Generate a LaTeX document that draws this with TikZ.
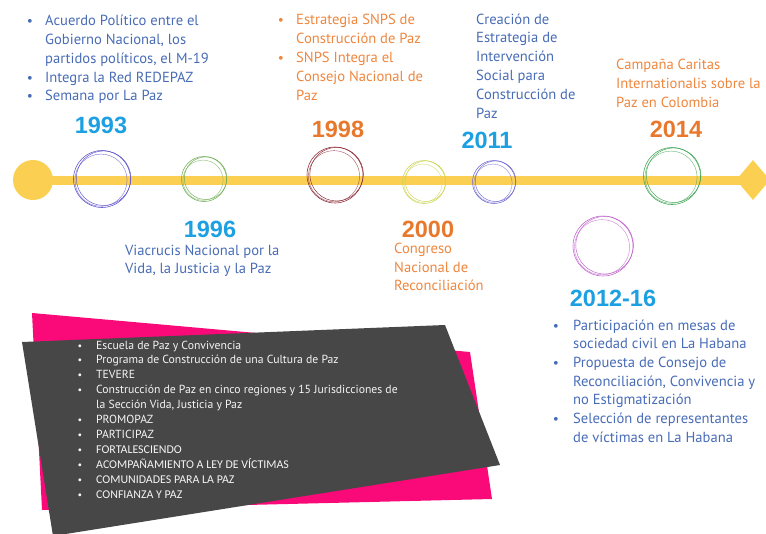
\documentclass[tikz,border=0pt]{standalone}
\usepackage{fontspec}
\setmainfont{PT Sans}
\newfontfamily\yearfont{Liberation Sans}
\newfontfamily\calfont{Carlito}
\usetikzlibrary{shapes.geometric}
\definecolor{tlyellow}{RGB}{251,208,82}
\definecolor{txtblue}{RGB}{72,108,182}
\definecolor{txtorange}{RGB}{238,134,62}
\definecolor{yrcyan}{RGB}{28,160,226}
\definecolor{yrorange}{RGB}{232,120,44}
\definecolor{ringA}{RGB}{92,80,205}
\definecolor{ringB}{RGB}{112,172,84}
\definecolor{ringC}{RGB}{138,40,52}
\definecolor{ringD}{RGB}{205,212,84}
\definecolor{ringE}{RGB}{112,104,212}
\definecolor{ringF}{RGB}{64,164,84}
\definecolor{ringG}{RGB}{192,96,204}
\definecolor{boxgray}{RGB}{71,71,71}
\definecolor{boxpink}{RGB}{250,10,120}
\newcommand{\sketchring}[5]{%
  \node[circle, draw=#5, line width=0.55pt, minimum size=#4*2pt, inner sep=0pt] (#1) at (#2,#3) {};
  \draw[#5, line width=0.45pt] ([shift={(1.6pt,0.8pt)}]#1.center) circle[radius=#4*1pt-1.2pt];
  \draw[#5, line width=0.4pt, opacity=0.8] ([shift={(-1.0pt,-1.2pt)}]#1.center) circle[radius=#4*1pt-2.4pt];
}
\begin{document}
\begin{tikzpicture}[x=1pt, y=-1pt,
  blue text/.style={anchor=base west, inner sep=0pt, text=txtblue, font=\fontsize{14.6}{16}\selectfont},
  orange text/.style={anchor=base west, inner sep=0pt, text=txtorange, font=\fontsize{14.6}{16}\selectfont},
  blue dot/.style={anchor=base, inner sep=0pt, text=txtblue, font=\fontsize{13.5}{16}\selectfont},
  orange dot/.style={anchor=base, inner sep=0pt, text=txtorange, font=\fontsize{13.5}{16}\selectfont},
  cyan year/.style={anchor=base, inner sep=0pt, text=yrcyan, font=\yearfont\bfseries\fontsize{23.5}{26}\selectfont},
  orange year/.style={anchor=base, inner sep=0pt, text=yrorange, font=\yearfont\bfseries\fontsize{23.5}{26}\selectfont},
  box text/.style={anchor=base west, inner sep=0pt, text=white!92!gray, font=\fontsize{11.7}{13}\selectfont},
  box caps/.style={anchor=base west, inner sep=0pt, text=white!92!gray, font=\calfont\fontsize{11.9}{13}\selectfont},
  box dot/.style={anchor=base, inner sep=0pt, text=white!92!gray, font=\fontsize{10.2}{12}\selectfont},
]
\useasboundingbox (0,0) rectangle (766,533);

% ---- background shapes for the program list
\fill[boxpink] (32,313) -- (470,352) -- (492,499) -- (42,510) -- cycle;
\fill[boxgray] (22,342) -- (445,325) -- (500,465) -- (53,536) -- cycle;

% ---- timeline
\node[circle, fill=tlyellow, minimum size=40pt, inner sep=0pt] (start) at (33,180) {};
\node[diamond, fill=tlyellow, minimum width=34pt, minimum height=40pt, aspect=0.85, inner sep=0pt] (end) at (753,180) {};
\draw[tlyellow, line width=9pt] (start.center) -- (end.center);

\sketchring{r1993}{102}{179}{28.5}{ringA}
\sketchring{r1996}{204}{179}{22.5}{ringB}
\sketchring{r1998}{335}{175}{28}{ringC}
\sketchring{r2000}{424}{182}{21.5}{ringD}
\sketchring{r2011}{494}{182}{21.5}{ringE}
\sketchring{r2014}{672}{176}{28.5}{ringF}
\sketchring{r2012}{603}{246}{30}{ringG}

% ---- years
\node[cyan year] (y1993) at (101,133) {1993};
\node[cyan year] (y1996) at (210,237) {1996};
\node[orange year] (y1998) at (338,137) {1998};
\node[orange year] (y2000) at (428,237) {2000};
\node[cyan year] (y2011) at (487,148) {2011};
\node[orange year] (y2014) at (676,137) {2014};
\node[cyan year] (y2012) at (613,306) {2012-16};

% ---- 1993
\node[blue dot] (b1) at (30,25) {•};
\node[blue text] (t1) at (45,25) {Acuerdo Político entre el};
\node[blue text] (t2) at (45,44) {Gobierno Nacional, los};
\node[blue text] (t3) at (45,63) {partidos políticos, el M-19};
\node[blue dot] (b4) at (30,82) {•};
\node[blue text] (t4) at (45,82) {Integra la Red REDEPAZ};
\node[blue dot] (b5) at (30,100) {•};
\node[blue text] (t5) at (45,100) {Semana por La Paz};

% ---- 1996
\node[blue text] (v1) at (125,255) {Viacrucis Nacional por la};
\node[blue text] (v2) at (125,273) {Vida, la Justicia y la Paz};

% ---- 1998
\node[orange dot] (ob1) at (281,24) {•};
\node[orange text] (o1) at (296,24) {Estrategia SNPS de};
\node[orange text] (o2) at (296,43) {Construcción de Paz};
\node[orange dot] (ob3) at (281,62) {•};
\node[orange text] (o3) at (296,62) {SNPS Integra el};
\node[orange text] (o4) at (296,81) {Consejo Nacional de};
\node[orange text] (o5) at (296,100) {Paz};

% ---- 2000
\node[orange text] (c1) at (394,253) {Congreso};
\node[orange text] (c2) at (394,272) {Nacional de};
\node[orange text] (c3) at (394,290) {Reconciliación};

% ---- 2011
\node[blue text] (e1) at (476,24) {Creación de};
\node[blue text] (e2) at (476,42.8) {Estrategia de};
\node[blue text] (e3) at (476,61.6) {Intervención};
\node[blue text] (e4) at (476,80.4) {Social para};
\node[blue text] (e5) at (476,99.2) {Construcción de};
\node[blue text] (e6) at (476,118) {Paz};

% ---- 2014
\node[orange text] (k1) at (616,69) {Campaña Caritas};
\node[orange text] (k2) at (616,88) {Internationalis sobre la};
\node[orange text] (k3) at (616,107) {Paz en Colombia};

% ---- 2012-16
\node[blue dot] (hb1) at (556,330) {•};
\node[blue text] (h1) at (573,330) {Participación en mesas de};
\node[blue text] (h2) at (573,348.7) {sociedad civil en La Habana};
\node[blue dot] (hb3) at (556,367.4) {•};
\node[blue text] (h3) at (573,367.4) {Propuesta de Consejo de};
\node[blue text] (h4) at (573,386.1) {Reconciliación, Convivencia y};
\node[blue text] (h5) at (573,404.8) {no Estigmatización};
\node[blue dot] (hb6) at (556,423.5) {•};
\node[blue text] (h6) at (573,423.5) {Selección de representantes};
\node[blue text] (h7) at (573,442.2) {de víctimas en La Habana};

% ---- program list
\node[box dot] (pb0) at (80,349) {•};
\node[box text] (p0) at (96,349) {Escuela de Paz y Convivencia};
\node[box dot] (pb1) at (80,363.9) {•};
\node[box text] (p1) at (96,363.9) {Programa de Construcción de una Cultura de Paz};
\node[box dot] (pb2) at (80,378.8) {•};
\node[box text] (p2) at (96,378.8) {TEVERE};
\node[box dot] (pb3) at (80,393.7) {•};
\node[box text] (p3) at (96,393.7) {Construcción de Paz en cinco regiones y 15 Jurisdicciones de};
\node[box text] (p4) at (96,408.6) {la Sección Vida, Justicia y Paz};
\node[box dot] (pb5) at (80,423.5) {•};
\node[box text] (p5) at (96,423.5) {PROMOPAZ};
\node[box dot] (pb6) at (80,438.4) {•};
\node[box text] (p6) at (96,438.4) {PARTICIPAZ};
\node[box dot] (pb7) at (80,453.3) {•};
\node[box caps] (p7) at (96,453.3) {FORTALESCIENDO};
\node[box dot] (pb8) at (80,468.2) {•};
\node[box caps] (p8) at (96,468.2) {ACOMPAÑAMIENTO A LEY DE VÍCTIMAS};
\node[box dot] (pb9) at (80,483.1) {•};
\node[box caps] (p9) at (96,483.1) {COMUNIDADES PARA LA PAZ};
\node[box dot] (pb10) at (80,498) {•};
\node[box caps] (p10) at (96,498) {CONFIANZA Y PAZ};
\end{tikzpicture}
\end{document}
